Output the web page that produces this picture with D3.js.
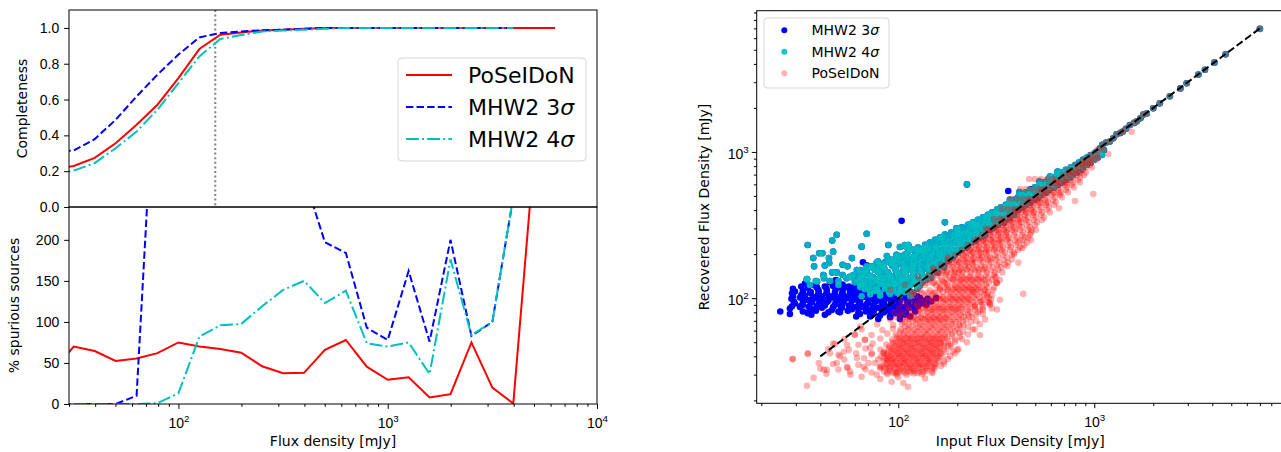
<!DOCTYPE html>
<html>
<head>
<meta charset="utf-8">
<title>Completeness, spurious sources and recovered flux</title>
<style>
	body { margin: 0; background: #fff; }
	svg { display: block; font-family: 'DejaVu Sans', sans-serif; }
	.tick text { fill: #000; font-size: 14px; }
	.tick line { stroke: #000; stroke-width: 1; }
	.axis-label { font-size: 14px; fill: #000; }
</style>
</head>
<body>
<script src="https://cdn.jsdelivr.net/npm/d3@7"></script>
<script>
'use strict';

// ---- left panels: binned curves (flux bin centres in mJy) ----
const fluxBins = [25.1, 31.6, 39.8, 50.1, 63.1, 79.4, 100, 125.9, 158.5, 199.5, 251.2, 316.2, 398.1,
	501.2, 631.0, 794.3, 1000, 1258.9, 1584.9, 1995.3, 2511.9, 3162.3, 3981.1, 5011.9, 6309.6];

const complPoseidon = [0.21, 0.229, 0.274, 0.356, 0.459, 0.571, 0.72, 0.882, 0.962, 0.975, 0.985, 0.99, 0.995,
	1, 1, 1, 1, 1, 1, 1, 1, 1, 1, 1, 1];
const complMhw3 = [0.31, 0.315, 0.379, 0.487, 0.617, 0.739, 0.851, 0.947, 0.972, 0.98, 0.987, 0.99, 0.995,
	1, 1, 1, 1, 1, 1, 1, 1, 1, 1, null, null];
const complMhw4 = [0.18, 0.203, 0.245, 0.328, 0.421, 0.543, 0.692, 0.841, 0.938, 0.96, 0.98, 0.985, 0.99,
	0.995, 1, 1, 1, 1, 1, 1, 1, 1, 1, null, null];

const spurPoseidon = [40, 70, 64.5, 52.5, 55.5, 62, 75, 70, 67, 62.5, 46, 37.5, 38,
	66, 78, 45.5, 29.5, 32.5, 8, 12, 75, 20, 0.5, 305, null];
const spurMhw3 = [0, 0, 0, 0, 10, 470, 700, 800, 750, 650, 500, 400, 277,
	197, 184, 93, 78, 162, 76, 200, 83, 100, 252, null, null];
const spurMhw4 = [0, 0, 0, 0, 0, 1, 13, 82, 96, 97.5, 119, 139, 150,
	123, 138, 74, 70, 75, 36.5, 176, 84, 100, 252, null, null];

const completenessCut = 150; // mJy, dotted line

// ---- right panel: [input, recovered] flux pairs in mJy ----
// bright sources found by every method
const brightSources = [[1070,1060],[1100,1120],[1150,1160],[1200,1180],[1250,1240],[1300,1320],[1360,1350],
	[1400,1380],[1450,1440],[1520,1530],[1600,1580],[1650,1620],[1720,1700],[1780,1800],[1850,1830],[2000,1990],
	[2160,2150],[2430,2400],[2750,2720],[2960,2950],[3400,3380],[3670,3650],[4100,4080],[4680,4650],[7000,6950]];

// MHW2 4 sigma detections
const mhw4Scatter = [[34.5,231],[48.5,271],[46,248],[69,276],[65,225],[89,231],[36.8,188],[39.5,203],[41,203],
	[46.5,208],[44.3,188],[44.4,174],[37.2,165],[34.2,134],[42.2,167],[48.5,150],[46,150],[58,188],[77.7,175],
	[79,158],[73,165],[87.5,194],[102,224],[108,231],[112,231],[98,198],[91,175],[52,144],[54.5,137],[59,144],
	[61.5,156],[66.5,144],[69,156],[72,140],[41.5,144],[38,131],[44.8,131],[49.5,131],[35.4,123],[64,123],
	[77.7,131],[82.5,137],[34.2,135],[41.8,137],[38.5,130],[49.5,123],[55,165],[52,169],[79,178],[64,156],
	[69,165],[76,156],[84,165],[94.5,183],[102,194],[110,225],[115,214],[124,214],[56.7,140],[64,137],[72,140],
	[77.7,133],[87.5,140],[98,148],[110,156],[119,165],[94.5,127],[105,133],[119,140],[87.5,119],[64,119],
	[65,103],[77.7,114],[102,114],[110,119],[124,127],
	[224,600],[173,330],[109,228],[113,228],[134,216],[167,262],[198,300],[202,277],[236,323],[238,320],
	[253,315],[282,362],[318,373],[346,418],[371,470],[415,532],[525,627],[594,680],[650,735]];
const mhw4Band = [[71.8,106],[80.7,104],[90.8,107],[102,105],[115,103],
	[67.6,115],[76,112],[85.6,116],[94,113],[103,115],[113,112],[125,116],
	[65.3,124],[73.3,121],[80.7,125],[88.6,122],[97.4,124],[107,121],[117.5,125],[129,122],
	[62.6,134],[70,131],[79,135],[86.6,132],[95,134],[104.5,131],[115,135],[126,132],[139,134],
	[63.8,145],[71.8,142],[80.7,146],[90.8,143],[99.7,145],[109.5,142],[120,146],[132.5,143],[145,145],
	[76,157],[85.6,154],[96.3,158],[105.7,155],[116,157],[128,154],[140.5,158],[154,155],
	[80.7,170],[93,167],[104.5,171],[115,168],[126,170],[139,167],[152,171],[165,168],
	[90.8,184],[102,181],[115,185],[126,182],[139,184],[152,181],[167,185],[181.5,182],
	[108,199],[122,196],[135.6,200],[149,197],[163,199],[179,196],[195,200],
	[117.5,215],[132.5,212],[147,216],[161.5,213],[177,215],[195,212],[211,216],
	[137,232],[154,229],[171,233],[188,230],[206,232],[227,229],
	[154,251],[173,248],[192.5,252],[211,249],[232,251],[249,248],
	[173,272],[195,269],[216,273],[238,270],[261,272],[277,269],
	[199.5,294],[224,291],[246,295],[270.5,292],[294,294],
	[227,318],[252,315],[277,319],[304.5,316],[323,318],
	[255,344],[283.5,341],[312,345],[338,342],[354,344],
	[287,372],[315.5,369],[342,373],[371,370],[389,372],
	[319,403],[350,400],[380,404],[408,401],
	[354,435],[384,432],[418,436],[448,433],
	[389,471],[423,468],[459,472],[493,469],
	[428,509],[465,506],[504,510],[535,507],
	[470,551],[510,548],[554,552],[587,549],
	[528,596],[574,593],[623,597],[653,594],
	[580,645],[630,642],[684,646],[717,643],
	[645,697],[700,694],[751,698],[778,695],
	[717,754],[769,751],[825,755],[855,752],
	[797,815],[855,812],[917,816],
	[875,882],[939,879],[996,883],
	[961,953],[1031,950],[1094,954],
	[1056,1033],[1120,1030]];
const mhw4Fill = [[71.8,110],[80.7,109],[89.7,110],[98.6,109],[108,110],[119,109],
	[70,119],[78,118],[85.6,119],[94,118],[103.3,119],[113.4,118],[125,119],
	[60.1,128],[66.8,127],[74.2,129],[82.6,128],[90.8,127],[99.7,129],[109.5,128],[120,127],[132.5,129],
	[58,139],[66,138],[74.2,139],[83.6,138],[91.8,139],[100.9,138],[110.8,139],[122,138],[134,139],[147,138],
	[67.6,150],[79,151],[88.6,150],[98.6,149],[108,150],[119,151],[131,150],[144,149],[158,150],
	[73.3,163],[84.6,162],[97.4,163],[108,162],[119,163],[131,162],[144,163],[158,162],[171,163],
	[85.6,176],[97.4,175],[108,176],[119,177],[131,176],[144,175],[158,176],[173,177],
	[98.6,191],[109.5,190],[120,191],[132.5,190],[145,191],[160,190],[175,191],[190,190],
	[112,206],[126,205],[140.5,207],[154,206],[169,205],[186,207],[202,206],
	[126,222],[142,221],[156,223],[171,222],[188,221],[206,223],[221.5,222],
	[145,240],[163,239],[181.5,241],[199.5,240],[219,239],[238,241],
	[163,260],[184,259],[204,261],[224,260],[246,259],[264,261],
	[186,281],[209,280],[229.5,282],[252,281],[273.5,280],
	[211,305],[238,304],[261,306],[287,305],[308,304],
	[240.5,330],[267,329],[294,331],[323,330],[346,329],
	[270.5,357],[301,356],[327,358],[354,357],[371,356],
	[301,386],[330,385],[363,387],[389,386],
	[334,418],[367,417],[398,419],[428,418],
	[371,452],[403,451],[438,453],[470,452],
	[408,489],[443,488],[481,490],[516,489],
	[448,529],[487,528],[528,530],[567,529],
	[498,572],[541,571],[587,573],[623,572],
	[554,619],[601,618],[653,620],[684,619],
	[615,670],[668,669],[717,671],[751,670],
	[684,725],[734,724],[787,726],[816,725],
	[760,784],[816,783],[875,785],
	[835,847],[896,846],[961,848],
	[917,916],[984,915],[1043,917],
	[1008,986],[1069,985]];

// MHW2 3 sigma detections that are not in the 4 sigma list
const mhw3Extra = [[25,81],[28,78],[36,77],[61,75],[104,338],[364,541],[475,555],[184,262],
	[48,133],[129,204],[66,176],[69,168],
	[33.4,126],[37.6,122],[44.8,128],[52,124],[60,120],[72,127],
	[29,116],[34.5,118],[39,114],[43,117],[48,115],[54,119],[61,113],[68,117],[77,115],[88,118],
	[28.7,108],[32,105],[35.4,109],[39,106],[43,108],[47,104],[51.6,107],[56.7,110],[62,105],[68,108],
	[75,106],[83,109],[91,104],[100,107],[110,110],
	[28.5,99],[31.5,101],[34.5,97],[38,100],[41.7,98],[45.8,101],[50.4,97],[55.3,100],[61,98],[66.5,102],
	[73,99],[80.7,96],[88.5,100],[97,98],[106,101],[116,97],[129,100],[141,99],[156,100],
	[29.7,92],[32.6,90],[35.8,93],[39.3,91],[43.2,94],[47.5,90],[52,92],[57.4,89],[63,93],[69,91],
	[76,94],[83.6,90],[92,93],[101,91],[111,94],[122,90],[131,92],[147,95],
	[28,85],[31.5,87],[36.3,84],[40.8,86],[45.8,83],[51.6,86],[58,84],[65.3,87],[71.8,83],[79,86],
	[86.6,84],[95,87],[104,83],[115,86],[126,88],[139,90],
	[34.5,79],[42.2,77],[50.4,80],[63.8,78],[73,77],[84.6,80],[97,79],[108,77],[122,81],
	[79,72],[91,74],[102,72]];
const mhw3Fill = [[32,120],[34.9,121],[38.4,119],[42.2,120],[46.5,121],[51,119],[56,120],[61.5,121],
	[67.6,119],[74.2,120],[81.7,121],
	[29.7,111],[32.6,112],[35.8,110],[39.3,111],[43.2,112],[47.5,110],[52,111],[57.4,112],[63,110],[69,111],
	[76.1,112],[83.6,110],[91.8,111],[101,112],
	[29,103],[33.4,104],[36.6,102],[40.8,103],[44.3,104],[48.5,102],[53.4,103],[58.7,104],[64.6,102],[71,103],
	[78,104],[85.6,102],[94,103],[103.3,104],[113.4,102],[125,103],
	[29.3,95],[32.6,96],[36.3,94],[39.8,95],[44,96],[48,94],[52.7,95],[58,96],[63.8,94],[70.3,95],
	[77,96],[84.6,94],[92.9,95],[102,96],[112,94],[123,95],[135.6,96],
	[28.7,88],[32,89],[34.9,87],[38.4,88],[42.2,89],[46.5,87],[51,88],[56,89],[61,87],[67.6,88],
	[74.2,89],[81.7,87],[89.7,88],[98.6,89],[108,87],[119,88],
	[32.6,81],[38,82],[44,80],[49.5,81],[55.3,82],[62.6,80],[68.4,81],[75,82],[82.6,80],[90.8,81],
	[99.7,82],[109.5,80],
	[71.8,75],[80.7,76],[90.8,75],[102,76],[115,75]];

// PoSeIDoN detections
const poseidonFaint = [[34.2,25.2],[92.5,26.8],[106,26.3],[112,24.8],[28.8,38.3],[34.6,42],[39.3,36],[41.7,32.4],
	[43.2,32.4],[46.5,49],[48.5,36],[52.7,43],[54.8,34],[56.7,31.5],[61.5,39],[66.5,34],[67.6,52],[73.3,42],
	[77.7,30],[87.5,38],[98,30],[54.8,47.8],[60,56],[64,64],[44.8,42],[50.4,40],[70.5,36],[80.7,34],[84,42],
	[71.8,46],
	[434,107],[410,175],[291,93],[318,127],[261,56],[480,293],[418,248],[988,516],[797,462],[661,412],
	[1550,1376],[1178,969],[294,92],[239,61],[224,50],[200,44],[261,83],[283,106],
	[91,114],[108,123],[126,140],[150,160],[179,190],
	[95,80],[101,86],[108,92],[115,98],[122,104],[98,74],[106,80],[113,86],[120,92],[128,99],[135,106],
	[112,72],[118,110],[104,95],
	[250,70],[270,78],[290,100],[300,85],[265,95],[245,88],[230,75],[215,65],[205,58],[195,52],[180,47],
	[240,110],[275,115],[310,140],[340,150],[360,165],[390,200],[430,220],[460,260]];
const poseidonCore = [[37,28.5],[65,29],[81,28],[100,28.8],[137,28.2],
	[43,30.4],[57,30],[73,31],[88,30.2],[97,30.8],[110,30],[120,30.6],[132,30.2],[149,30.8],
	[40,33],[49.5,32.5],[55,33.3],[68,32.6],[81,33.2],[90,32.8],[96,33.4],[103,32.5],[111,33.1],[119,32.7],
	[128,33.3],[139,32.6],[152,33],
	[46.5,35.5],[62.6,35],[76,36],[87,35.2],[93,35.8],[100,35.3],[107,35.9],[115,35.1],[123,35.7],[132,35.2],
	[142,35.8],[154,35.3],[171,35.6],
	[29,38.4],[53,38],[67,38.8],[79,38.1],[88,38.7],[94,38.2],[101,38.9],[108,38],[116,38.6],[125,38.3],
	[134,38.9],[144,38.1],[156,38.6],[179,38.4],
	[34.5,41.5],[49.5,41],[61,42],[73,41.2],[85,41.8],[92,41.1],[99,41.9],[106,41.3],[113,41.7],[122,41.2],
	[131,41.9],[140,41.1],[150,41.6],[163,41.3],[195,41.8],
	[44,44.8],[56,44.3],[68,45.3],[81,44.5],[90,45.1],[96,44.4],[103,45.2],[111,44.6],[119,45],[128,44.4],
	[137,45.3],[147,44.6],[158,45.1],[171,44.5],[202,45],
	[47.5,48.5],[62.6,48],[74,49],[87,48.2],[94,48.9],[101,48.1],[108,48.8],[116,48.3],[125,49],[134,48.2],
	[144,48.7],[154,48.1],[165,48.9],[184,48.4],
	[53,52.4],[67.6,52],[81,53],[93,52.2],[100,52.9],[107,52.1],[115,52.8],[123,52.3],[132,53],[142,52.1],
	[152,52.7],[163,52.2],[177,52.9],[211,52.5],
	[60,56.6],[73,56],[88,57.2],[97,56.3],[106,57],[113,56.2],[122,56.9],[131,56.4],[140,57.1],[150,56.2],
	[161,56.8],[173,56.1],[188,56.9],[227,56.5],
	[65,61.2],[83,60.6],[94,61.8],[103,60.9],[112,61.6],[120,60.8],[129,61.5],[139,60.9],[149,61.7],[160,60.8],
	[171,61.4],[184,60.9],[200,61.6],[246,61.2],
	[78,66.2],[94,65.6],[104.5,66.8],[113,65.9],[123,66.6],[132,65.8],[142,66.5],[152,65.9],[163,66.7],
	[175,65.8],[188,66.4],[204,65.9],[261,66.3],
	[91,71.5],[104.5,70.8],[115,72.2],[125,71.1],[134,71.9],[144,71],[154,71.8],[165,71.2],[177,72],[190,71.1],
	[204,71.7],[221,71.2],[277,71.6]];
const poseidonBand = [[102,77.3],[116,76.6],[126,78],[137,77],[147,77.8],[158,76.9],[169,77.6],[181,77],
	[195,77.9],[209,76.8],[227,77.5],[249,77.1],
	[113,83.5],[128,82.7],[139,84.2],[149,83.1],[160,84],[171,83],[184,83.8],[197,83.2],[211,84.1],[227,83],
	[246,83.7],[270,83.3],[319,83.6],
	[125,90.3],[139,89.5],[150,91],[161,89.9],[173,90.8],[186,89.8],[200,90.6],[214,90],[230,90.9],[246,89.7],
	[267,90.5],[294,90.1],
	[137,97.6],[150,96.7],[163,98.3],[175,97.2],[188,98.1],[202,97],[216,97.9],[232,97.3],[249,98.2],[270,97],
	[297,97.8],[330,97.4],
	[149,105.5],[163,104.6],[177,106.3],[190,105.1],[204,106],[219,104.9],[235,105.8],[252,105.2],[273,106.1],
	[301,105],
	[129,114],[145,113],[163,114.9],[179,113.5],[192,114.6],[206,113.3],[221,114.4],[238,113.6],[255,114.7],
	[277,113.4],[304,114.2],
	[137,123],[156,122],[177,124],[195,122.6],[209,123.8],[224,122.3],[240,123.5],[258,122.7],[280,123.9],
	[319,127],
	[145,133],[167,132],[190,134],[209,132.5],[224,133.8],[240,132.3],[258,133.6],[277,132.7],[301,133.9],
	[330,133.1],
	[142,144],[158,143],[175,145],[192.5,143.5],[211,144.8],[232,143.2],[255,144.6],[280,143.4],[308,144.7],
	[154,156],[169,155],[186,157],[204,155.4],[224,156.8],[246,155.2],[270,156.6],[297,155.3],[323,156.7],
	[165,169],[181,168],[200,170],[219,168.4],[240,169.8],[264,168.2],[290,169.6],[319,168.3],[350,169.7],
	[179,183],[197,182],[216,184],[238,182.4],[261,183.8],[287,182.2],[315,183.6],[346,182.3],[380,183.7],
	[195,198],[214,197],[235,199],[258,197.4],[283,198.8],[312,197.2],[342,198.6],[380,197.5],
	[211,214],[232,213],[255,215],[280,213.4],[308,214.8],[338,213.2],[371,214.6],[408,213.5],
	[227,231],[249,230],[273,232],[301,230.4],[330,231.8],[363,230.2],[398,231.6],[438,230.5],
	[246,250],[270,249],[297,251],[327,249.4],[358,250.8],[394,249.2],[433,250.6],[476,249.5],
	[267,271],[294,270],[323,272],[354,270.4],[389,271.8],[428,270.2],[470,271.6],
	[287,293],[315,292],[346,294],[380,292.4],[418,293.8],[459,292.2],[504,293.6],
	[312,317],[342,316],[375,318],[413,316.4],[454,317.8],[498,316.2],
	[338,343],[371,342],[408,344],[448,342.4],[493,343.8],[541,342.2],
	[367,371],[403,370],[443,372],[487,370.4],[535,371.8],
	[394,402],[433,401],[476,403],[522,401.4],[574,402.8],
	[428,434],[470,433],[516,435],[567,433.4],[623,434.8],
	[465,470],[510,469],[560,471],[615,469.4],
	[504,508],[554,507],[608,509],[668,507.4],
	[541,550],[594,549],[653,551],[717,549.4],
	[587,595],[645,594],[709,596],[769,594.4],
	[638,644],[700,643],[760,645],[825,643.4],
	[692,696],[751,695],[816,697],[885,695.4],
	[743,753],[806,752],[875,754],
	[806,814],[875,813],[950,815],
	[875,881],[950,880],[1019,882],
	[950,952],[1031,951],
	[1031,1032],[1120,1031]];
// second and third passes over the crowded part of the PoSeIDoN cloud
const poseidonDense = [[84.6,31.6],[90.8,31.8],[97.4,31.4],[104.5,31.7],[112,31.5],[120,31.8],[129,31.4],[139,31.7],[149,31.5],
	[81.7,34.3],[87.6,34.1],[94,34.5],[100.9,34.2],[108,34.4],[116,34.1],[125,34.5],[134,34.2],[144,34.4],[154,34.1],[165,34.4],
	[84.6,37],[90.8,37.2],[97.4,36.8],[104.5,37.1],[112,36.9],[120,37.2],[129,36.8],[139,37.1],[149,36.9],[160,37.2],[171,36.9],
	[81.7,40],[88.6,40.3],[95.1,39.8],[102,40.2],[109.5,39.9],[117.5,40.3],[126,39.8],[135.6,40.2],[145,39.9],[156,40.3],[167,39.9],[184,40.1],
	[84.6,43.1],[91.8,43.4],[98.6,42.9],[105.7,43.3],[113.4,43],[122,43.4],[131,42.9],[140.5,43.3],[150.5,43],[161.5,43.4],[175,43],[190,43.2],
	[89.7,46.6],[96.3,46.9],[103.3,46.4],[110.8,46.8],[119,46.5],[128,46.9],[137,46.4],[147,46.8],[158,46.5],[171,46.9],[186,46.6],
	[94,50.4],[100.9,50.7],[108,50.1],[116,50.6],[125,50.2],[134,50.7],[144,50.1],[154,50.6],[165,50.2],[179,50.6],[195,50.3],
	[98.6,54.5],[105.7,54.8],[113.4,54.2],[122,54.7],[131,54.3],[140.5,54.8],[150.5,54.2],[161.5,54.7],[173,54.3],[188,54.7],[206,54.4],
	[102,59],[109.5,59.3],[117.5,58.7],[126,59.2],[135.6,58.8],[145,59.3],[156,58.7],[167,59.2],[179,58.8],[195,59.2],[214,58.9],
	[108,63.6],[116,64],[125,63.3],[134,63.8],[144,63.4],[154,64],[165,63.3],[177,63.8],[190,63.4],[206,63.9],[227,63.5],
	[108,68.8],[119,69.2],[129,68.5],[139,69],[149,68.6],[160,69.2],[171,68.5],[184,69],[197,68.6],[214,69.1],[235,68.7],
	[110.8,74.3],[120,74.7],[131,74],[142,74.5],[152,74.1],[163,74.7],[175,74],[188,74.5],[202,74.1],[216,74.6],[238,74.2],
	[119,80.3],[129,80.7],[140.5,80],[150.5,80.5],[161.5,80.1],[173,80.7],[186,80],[199.5,80.5],[214,80.1],[232,80.6],[255,80.2],
	[126,86.9],[137,87.3],[149,86.6],[160,87.1],[171,86.7],[184,87.3],[197,86.6],[211,87.1],[227,86.7],[246,87.2],[270.5,86.8],
	[131,93.9],[142,94.3],[156,93.6],[169,94.1],[181.5,93.7],[195,94.3],[209,93.6],[224,94.1],[240.5,93.7],[261,94.2],[287,93.8],
	[142,101.5],[156,102],[169,101.1],[184,101.7],[197,101.2],[211,101.9],[227,101.1],[243,101.7],[261,101.2],[283.5,101.8],
	[154,110],[169,110.5],[186,109.6],[199.5,110.2],[214,109.7],[229.5,110.4],[246,109.6],[264,110.2],[287,109.8],
	[163,118.5],[179,119],[197,118.1],[211,118.7],[227,118.2],[243,118.9],[261,118.1],[283.5,118.7],[308,118.3],
	[152,128],[171,128.5],[188,127.6],[202,128.2],[216,127.7],[232,128.4],[249,127.6],[267,128.2],[290,127.8],[315.5,128.3],
	[150.5,138.5],[165,139],[184,138.1],[199.5,138.7],[214,138.2],[229.5,138.9],[246,138.1],[264,138.7],[287,138.3],[315.5,138.8],
	[161.5,150],[177,150.6],[195,149.6],[214,150.3],[235,149.7],[258,150.4],[283.5,149.8],[312,150.3],
	[173,162],[190,162.6],[209,161.6],[229.5,162.3],[252,161.7],[277,162.4],[304.5,161.8],[334,162.3],
	[186,175],[204,175.6],[224,174.6],[246,175.3],[270.5,174.7],[297,175.4],[327,174.8],[363,175.3],
	[202,189.5],[221.5,190.1],[243,189.1],[267,189.8],[294,189.2],[323,189.9],[358,189.4],
	[219,205],[240.5,205.6],[264,204.6],[290,205.3],[319,204.7],[350,205.4],[389,204.8],
	[235,222],[258,222.6],[283.5,221.6],[312,222.3],[342,221.7],[375,222.4],[418,221.8],
	[255,240],[280,240.6],[308,239.6],[338,240.3],[371,239.7],[408,240.4],[454,239.8],
	[277,260],[304.5,260.6],[334,259.6],[367,260.3],[403,259.7],[443,260.4],
	[297,281],[327,281.6],[358,280.6],[394,281.3],[433,280.7],[476,281.4],
	[323,305],[354,305.6],[389,304.6],[428,305.3],[470,304.7],
	[350,330],[384,330.6],[423,329.6],[465,330.3],[510,329.7],
	[380,357],[418,357.6],[459,356.6],[504,357.3],[554,356.7],
	[408,386],[448,386.6],[493,385.6],[541,386.3],[594,385.7],
	[443,418],[487,418.6],[535,417.6],[587,418.3],
	[481,452],[528,452.6],[580,451.6],[638,452.3],
	[522,489],[574,489.6],[630,488.6],[684,489.3],
	[567,529],[623,529.6],[676,528.6],[734,529.3],
	[608,572],[668,572.6],[725,571.6],[787,572.3],
	[660,619],[717,619.6],[778,618.6],[845,619.3],
	[717,670],[778,670.6],[845,669.6],
	[769,725],[835,725.6],[906,724.6],
	[835,784],[906,784.6],[972,783.6],
	[896,847],[961,847.6],
	[972,916],[1043,916.6],
	[87.6,31],[94,30.8],[100.9,31.2],[108,30.9],[116,31.1],[125,30.8],[134,31.2],
	[84.6,33.4],[90.8,33.6],[97.4,33.2],[104.5,33.5],[112,33.3],[120,33.6],[129,33.2],[139,33.5],[149,33.3],
	[87.6,36],[94,36.2],[100.9,35.8],[108,36.1],[116,35.9],[125,36.2],[134,35.8],[144,36.1],[154,35.9],
	[84.6,38.9],[90.8,39.1],[97.4,38.7],[104.5,39],[112,38.8],[120,39.1],[129,38.7],[139,39],[149,38.8],[160,39.1],
	[87.6,42],[94,42.2],[100.9,41.8],[108,42.1],[116,41.9],[125,42.2],[134,41.8],[144,42.1],[154,41.9],[165,42.2],
	[92.9,45.5],[99.7,45.7],[107,45.3],[115,45.6],[123,45.4],[132.5,45.7],[142,45.3],[152,45.6],[163,45.4],
	[97.4,49.3],[104.5,49.5],[112,49.1],[120,49.4],[129,49.2],[139,49.5],[149,49.1],[160,49.4],[171,49.2],
	[102,53.2],[109.5,53.4],[117.5,53],[126,53.3],[135.6,53.1],[145,53.4],[156,53],[167,53.3],
	[122,72.6],[131,72.9],[140.5,72.4],[150.5,72.8],[161.5,72.5],[173,72.8],
	[132.5,85],[142,85.3],[152,84.8],[163,85.2],[175,84.9],[188,85.3],[202,84.8],
	[149,99],[160,99.4],[171,98.7],[184,99.2],[197,98.8],[211,99.3],[227,98.9],
	[163,116],[175,116.4],[188,115.7],[202,116.2],[216,115.8],[232,116.3],[249,115.9],
	[177,135],[190,135.4],[204,134.7],[219,135.2],[235,134.8],[252,135.3],[270.5,134.9],
	[195,158],[209,158.4],[224,157.7],[240.5,158.2],[258,157.8],[277,158.3],
	[211,186],[227,186.4],[243,185.7],[261,186.2],[280,185.8],[301,186.3],
	[232,217],[249,217.4],[267,216.7],[287,217.2],[308,216.8],[330,217.3],
	[255,254],[273.5,254.4],[294,253.7],[315.5,254.2],[338,253.8],[363,254.3],
	[280,298],[301,298.4],[323,297.7],[346,298.2],[371,297.8],[398,298.3],
	[308,348],[330,348.4],[354,347.7],[380,348.2],[408,347.8],[438,348.3],
	[338,408],[363,408.4],[389,407.7],[418,408.2],[448,407.8],[481,408.3],
	[375,477],[403,477.4],[433,476.7],[465,477.2],[498,476.8],[535,477.3],
	[418,558],[448,558.4],[481,557.7],[516,558.2],[554,557.8],
	[465,653],[498,653.4],[535,652.7],[574,653.2],[615,652.8]];
// sources sitting right under the one-to-one line
const poseidonNearLine = [[115,108.7],[123,109.2],[132.5,108.3],[142,108.9],[152,108.5],
	[131,127],[140.5,127.6],[150.5,126.5],[161.5,127.3],[173,126.8],
	[152,149],[163,149.7],[175,148.4],[188,149.3],[202,148.8],
	[179,174],[192.5,174.8],[206,173.3],[221.5,174.4],[238,173.7],
	[209,204],[224,204.9],[240.5,203.2],[258,204.5],[277,203.6],
	[243,239],[261,240],[280,238.1],[301,239.6],[323,238.6],
	[287,279],[308,280.2],[330,278],[354,279.6],
	[334,327],[358,328.3],[384,325.8],[413,327.6],
	[394,383],[423,384.6],[454,381.7],[487,383.8],
	[459,448],[493,450],[528,446.5],[567,449],
	[535,525],[574,527.3],[615,523],[660,526],
	[630,614],[676,616.5],[725,612],
	[734,718],[787,721],[845,716],
	[865,841],[928,844]];

const oneToOne = [40, 7000];

// ---- drawing ----
const W = 1281, H = 452;
const svg = d3.select('body').append('svg').attr('width', W).attr('height', H);
const defs = svg.append('defs');

const red = '#ff0000', blue = '#0000ff', cyan = '#00bfbf';
const dashed = '7.4,3.2', dashDot = '12.8,3.2,2,3.2';
const majorLen = 4.9, minorLen = 2.8, pad = 4.9;

function minorTicks(lo, hi) {
	const out = [];
	for (let e = Math.floor(Math.log10(lo)); e < Math.ceil(Math.log10(hi)); e++) {
		for (let m = 2; m < 10; m++) {
			const v = m * Math.pow(10, e);
			if (v >= lo && v <= hi) out.push(v);
		}
	}
	return out;
}

function powerLabels(g) {
	g.selectAll('.tick text').each(function(d) {
		const t = d3.select(this).text(null);
		t.append('tspan').text('10');
		t.append('tspan').attr('dy', -6).style('font-size', '9.8px').text(Math.round(Math.log10(d)));
	});
}

function clip(id, x, y, w, h) {
	defs.append('clipPath').attr('id', id).append('rect')
		.attr('x', x).attr('y', y).attr('width', w).attr('height', h);
	return 'url(#' + id + ')';
}

function sigmaText(sel, label) {
	const m = label.match(/^(.*)σ$/);
	if (m) {
		sel.append('tspan').text(m[1]);
		sel.append('tspan').style('font-style', 'italic').text('σ');
	} else {
		sel.text(label);
	}
}

// ================= left: completeness + spurious =================
const L = {x0: 69, x1: 597, top0: 10, mid: 207, bot1: 404};
const xL = d3.scaleLog().domain([30, 10000]).range([L.x0, L.x1]);
const yTop = d3.scaleLinear().domain([0, 1.1]).range([L.mid, L.top0]);
const yBot = d3.scaleLinear().domain([0, 240]).range([L.bot1, L.mid]);

const series = [
	{name: 'PoSeIDoN', color: red, dash: null, compl: complPoseidon, spur: spurPoseidon},
	{name: 'MHW2 3σ', color: blue, dash: dashed, compl: complMhw3, spur: spurMhw3},
	{name: 'MHW2 4σ', color: cyan, dash: dashDot, compl: complMhw4, spur: spurMhw4}
];

const clipTop = clip('clipTop', L.x0, L.top0, L.x1 - L.x0, L.mid - L.top0);
const clipBot = clip('clipBot', L.x0, L.mid, L.x1 - L.x0, L.bot1 - L.mid);

const gTop = svg.append('g').attr('clip-path', clipTop);
const gBot = svg.append('g').attr('clip-path', clipBot);

gTop.append('line')
	.attr('x1', xL(completenessCut)).attr('x2', xL(completenessCut))
	.attr('y1', L.top0).attr('y2', L.mid)
	.attr('stroke', '#808080').attr('stroke-width', 2).attr('stroke-dasharray', '2,2.6');

series.forEach(function(s) {
	const lineTop = d3.line()
		.defined(function(d, i) { return s.compl[i] != null; })
		.x(function(d) { return xL(d); })
		.y(function(d, i) { return yTop(s.compl[i]); });
	const lineBot = d3.line()
		.defined(function(d, i) { return s.spur[i] != null; })
		.x(function(d) { return xL(d); })
		.y(function(d, i) { return yBot(s.spur[i]); });
	gTop.append('path').attr('d', lineTop(fluxBins))
		.attr('fill', 'none').attr('stroke', s.color).attr('stroke-width', 2)
		.attr('stroke-dasharray', s.dash);
	gBot.append('path').attr('d', lineBot(fluxBins))
		.attr('fill', 'none').attr('stroke', s.color).attr('stroke-width', 2)
		.attr('stroke-dasharray', s.dash);
});

// axes
svg.append('g').attr('transform', 'translate(' + L.x0 + ',0)')
	.call(d3.axisLeft(yTop).tickValues([0, 0.2, 0.4, 0.6, 0.8, 1.0]).tickFormat(d3.format('.1f'))
		.tickSize(majorLen).tickPadding(pad))
	.call(function(g) { g.select('.domain').remove(); });
svg.append('g').attr('transform', 'translate(' + L.x0 + ',0)')
	.call(d3.axisLeft(yBot).tickValues([0, 50, 100, 150, 200]).tickSize(majorLen).tickPadding(pad))
	.call(function(g) { g.select('.domain').remove(); });
svg.append('g').attr('transform', 'translate(0,' + L.bot1 + ')')
	.call(d3.axisBottom(xL).tickValues(minorTicks(30, 10000)).tickSize(minorLen).tickFormat(''))
	.call(function(g) { g.select('.domain').remove(); });
svg.append('g').attr('transform', 'translate(0,' + L.bot1 + ')')
	.call(d3.axisBottom(xL).tickValues([100, 1000, 10000]).tickSize(majorLen).tickFormat(''))
	.call(function(g) { g.select('.domain').remove(); })
	.call(function(g) { g.selectAll('.tick text').attr('y', 24).attr('dy', null); })
	.call(powerLabels);

// frames
[[L.top0, L.mid], [L.mid, L.bot1]].forEach(function(r) {
	svg.append('rect').attr('x', L.x0).attr('y', r[0]).attr('width', L.x1 - L.x0).attr('height', r[1] - r[0])
		.attr('fill', 'none').attr('stroke', '#000').attr('stroke-width', 1);
});

svg.append('text').attr('class', 'axis-label').attr('text-anchor', 'middle')
	.attr('transform', 'translate(27,' + ((L.top0 + L.mid) / 2) + ') rotate(-90)').text('Completeness');
svg.append('text').attr('class', 'axis-label').attr('text-anchor', 'middle')
	.attr('transform', 'translate(19,' + ((L.mid + L.bot1) / 2) + ') rotate(-90)').text('% spurious sources');
svg.append('text').attr('class', 'axis-label').attr('text-anchor', 'middle')
	.attr('x', (L.x0 + L.x1) / 2).attr('y', 446).text('Flux density [mJy]');

// legend (top panel)
const legL = svg.append('g').attr('transform', 'translate(398,58)');
legL.append('rect').attr('width', 188).attr('height', 103).attr('rx', 4)
	.attr('fill', '#fff').attr('fill-opacity', 0.8).attr('stroke', '#d6d6d6');
series.forEach(function(s, i) {
	const y = 17 + i * 32;
	legL.append('line').attr('x1', 8).attr('x2', 54).attr('y1', y).attr('y2', y)
		.attr('stroke', s.color).attr('stroke-width', 2).attr('stroke-dasharray', s.dash);
	const t = legL.append('text').attr('x', 70).attr('y', y).attr('dy', '0.36em')
		.style('font-size', '22px').attr('fill', '#000');
	sigmaText(t, s.name);
});

// ================= right: recovered vs input flux =================
const R = {x0: 756.7, x1: 1283.8, y0: 10.7, y1: 403.3};
const xR = d3.scaleLog().domain([18.95, 9268]).range([R.x0, R.x1]);
const yR = d3.scaleLog().domain([19.1, 9247]).range([R.y1, R.y0]);
const clipR = clip('clipR', R.x0, R.y0, R.x1 - R.x0, R.y1 - R.y0);
const gR = svg.append('g').attr('clip-path', clipR);

const mhw4All = mhw4Scatter.concat(mhw4Band, mhw4Fill, brightSources);
const mhw3All = mhw3Extra.concat(mhw3Fill, mhw4All);
const poseidonAll = poseidonFaint.concat(poseidonCore, poseidonBand, poseidonDense, poseidonNearLine, brightSources);

const scatterSeries = [
	{name: 'MHW2 3σ', color: blue, opacity: 1, data: mhw3All},
	{name: 'MHW2 4σ', color: cyan, opacity: 0.9, data: mhw4All},
	{name: 'PoSeIDoN', color: red, opacity: 0.3, data: poseidonAll}
];

scatterSeries.forEach(function(s) {
	gR.append('g').selectAll('circle').data(s.data).join('circle')
		.attr('cx', function(d) { return xR(d[0]); })
		.attr('cy', function(d) { return yR(d[1]); })
		.attr('r', 3.3)
		.attr('fill', s.color).attr('fill-opacity', s.opacity);
});

gR.append('line')
	.attr('x1', xR(oneToOne[0])).attr('y1', yR(oneToOne[0]))
	.attr('x2', xR(oneToOne[1])).attr('y2', yR(oneToOne[1]))
	.attr('stroke', '#000').attr('stroke-width', 2).attr('stroke-dasharray', dashed);

svg.append('g').attr('transform', 'translate(0,' + R.y1 + ')')
	.call(d3.axisBottom(xR).tickValues(minorTicks(19, 9200)).tickSize(minorLen).tickFormat(''))
	.call(function(g) { g.select('.domain').remove(); });
svg.append('g').attr('transform', 'translate(0,' + R.y1 + ')')
	.call(d3.axisBottom(xR).tickValues([100, 1000]).tickSize(majorLen).tickFormat(''))
	.call(function(g) { g.select('.domain').remove(); })
	.call(function(g) { g.selectAll('.tick text').attr('y', 24).attr('dy', null); })
	.call(powerLabels);
svg.append('g').attr('transform', 'translate(' + R.x0 + ',0)')
	.call(d3.axisLeft(yR).tickValues(minorTicks(19.5, 9200)).tickSize(minorLen).tickFormat(''))
	.call(function(g) { g.select('.domain').remove(); });
svg.append('g').attr('transform', 'translate(' + R.x0 + ',0)')
	.call(d3.axisLeft(yR).tickValues([100, 1000]).tickSize(majorLen).tickFormat(''))
	.call(function(g) { g.select('.domain').remove(); })
	.call(function(g) { g.selectAll('.tick text').attr('dy', '0.45em'); })
	.call(powerLabels);

svg.append('rect').attr('x', R.x0).attr('y', R.y0).attr('width', R.x1 - R.x0).attr('height', R.y1 - R.y0)
	.attr('fill', 'none').attr('stroke', '#000').attr('stroke-width', 1);

svg.append('text').attr('class', 'axis-label').attr('text-anchor', 'middle')
	.attr('transform', 'translate(709,' + ((R.y0 + R.y1) / 2) + ') rotate(-90)').text('Recovered Flux Density [mJy]');
svg.append('text').attr('class', 'axis-label').attr('text-anchor', 'middle')
	.attr('x', (R.x0 + R.x1) / 2).attr('y', 446).text('Input Flux Density [mJy]');

// legend (scatter)
const legR = svg.append('g').attr('transform', 'translate(764,18)');
legR.append('rect').attr('width', 125).attr('height', 70).attr('rx', 3)
	.attr('fill', '#fff').attr('fill-opacity', 0.8).attr('stroke', '#d6d6d6');
scatterSeries.forEach(function(s, i) {
	const y = 12.3 + i * 21.5;
	legR.append('circle').attr('cx', 20.3).attr('cy', y).attr('r', 3)
		.attr('fill', s.color).attr('fill-opacity', s.opacity);
	const t = legR.append('text').attr('x', 47.5).attr('y', y).attr('dy', '0.36em')
		.style('font-size', '14px').attr('fill', '#000');
	sigmaText(t, s.name);
});
</script>
</body>
</html>
